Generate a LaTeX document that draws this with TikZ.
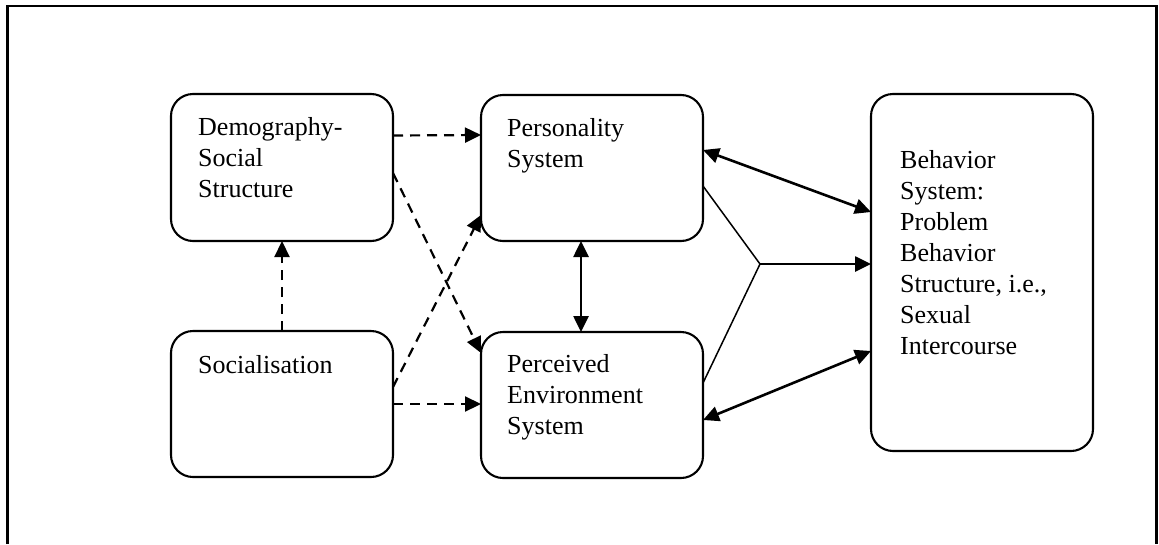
\documentclass[tikz,border=0pt]{standalone}
\usepackage{fontspec}
\setmainfont{Liberation Serif}
\usepackage{tikz}
\usetikzlibrary{arrows.meta}
\usetikzlibrary{calc}
\usetikzlibrary{positioning}

\tikzset{
  sysbox/.style={draw=black, line width=2.1pt, rounded corners=22pt, outer sep=0pt,
    minimum width=222pt, inner sep=0pt},
  boxtext/.style={anchor=north west, inner sep=0pt, align=left,
    font=\fontsize{26}{31}\selectfont},
  dashlink/.style={-{Triangle[length=16pt,width=15pt]}, line width=2.2pt, dash pattern=on 10pt off 7pt},
  bothlink/.style={{Triangle[length=16pt,width=15pt]}-{Triangle[length=16pt,width=15pt]}, line width=2.6pt},
  onelink/.style={-{Triangle[length=16pt,width=15pt]}, line width=2.6pt},
  thinlink/.style={line width=1.5pt}
}

\begin{document}
\begin{tikzpicture}[x=1pt, y=-1pt]
    \useasboundingbox (0,0) rectangle (1159,544);
    \draw[line width=2.8pt] (7.5,544) -- (7.5,6) -- (1156.5,6) -- (1156.5,544);

    \node[sysbox, minimum height=147pt] (demo) at (282,167.5) {};
    \node[sysbox, minimum height=146pt] (soc) at (282,404) {};
    \node[sysbox, minimum height=146pt] (pers) at (592,168) {};
    \node[sysbox, minimum height=146pt] (perc) at (592,405) {};
    \node[sysbox, minimum height=357pt] (beh) at (982,272.5) {};

    \node[boxtext] (demo-txt) at ([shift={(27,23)}]demo.north west) {Demography-\\Social\\Structure};
    \node[boxtext] (soc-txt) at ([shift={(27,24)}]soc.north west) {Socialisation};
    \node[boxtext] (pers-txt) at ([shift={(26,23)}]pers.north west) {Personality\\System};
    \node[boxtext] (perc-txt) at ([shift={(26,22)}]perc.north west) {Perceived\\Environment\\System};
    \node[boxtext] (beh-txt) at ([shift={(29,56)}]beh.north west) {Behavior\\System:\\Problem\\Behavior\\Structure, i.e.,\\Sexual\\Intercourse};

    \coordinate (junc) at (760,264);

    \path [dashlink] ([yshift=32pt]demo.east) edge ([yshift=33pt]pers.west);
    \path [dashlink] ([yshift=-5.5pt]demo.east) edge ([yshift=52pt]perc.west);
    \path [dashlink] ([yshift=17pt]soc.east) edge ([yshift=-47pt]pers.west);
    \path [dashlink] (soc.east) edge (soc.east -| perc.west);
    \path [dashlink] (soc.north) edge (demo.south);
    \path [bothlink] ([xshift=-11pt]pers.south) edge ([xshift=-11pt]perc.north);
    \path [bothlink] ([yshift=18pt]pers.east) edge ([yshift=60.5pt]beh.west);
    \path [bothlink] ([yshift=-15pt]perc.east) edge ([yshift=-78.5pt]beh.west);
    \path [thinlink] ([yshift=-18pt]pers.east) edge (junc);
    \path [thinlink] ([yshift=22pt]perc.east) edge (junc);
    \path [onelink] (junc) edge (junc -| beh.west);
  \end{tikzpicture}
\end{document}
